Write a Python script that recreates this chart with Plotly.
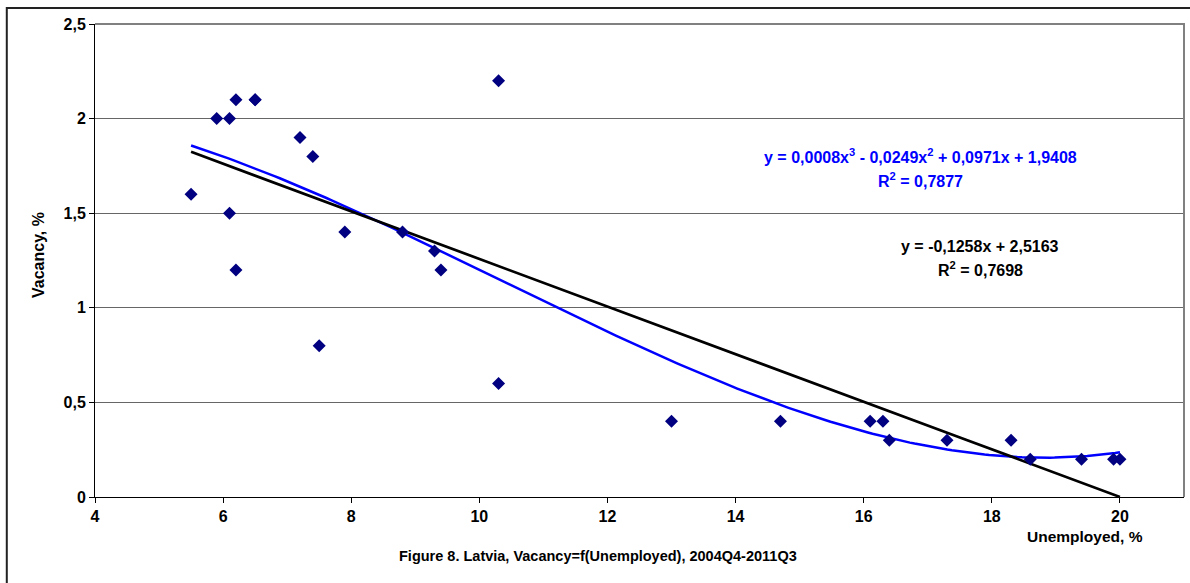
import numpy as np
import plotly.graph_objects as go

# Data (28 quarters; one marker is hidden under another)
unemployed = [5.5, 5.9, 6.1, 6.1, 6.2, 6.2, 6.5, 6.5, 7.2, 7.4, 7.5, 7.9, 8.8, 9.3, 9.4,
              10.3, 10.3, 13.0, 14.7, 16.1, 16.3, 16.4, 17.3, 18.3, 18.6, 19.4, 19.9, 20.0]
vacancy = [1.6, 2.0, 2.0, 1.5, 2.1, 1.2, 2.1, 2.1, 1.9, 1.8, 0.8, 1.4, 1.4, 1.3, 1.2,
           2.2, 0.6, 0.4, 0.4, 0.4, 0.4, 0.3, 0.3, 0.3, 0.2, 0.2, 0.2, 0.2]

# linear trendline coefficients as printed on the chart
lin_coef = [-0.1258, 2.5163]

lin_label = ["y = -0,1258x + 2,5163", "R<sup>2</sup> = 0,7698"]
poly_label = ["y = 0,0008x<sup>3</sup> - 0,0249x<sup>2</sup> + 0,0971x + 1,9408",
              "R<sup>2</sup> = 0,7877"]
x_title = "Unemployed, %"
y_title = "Vacancy, %"
caption = "Figure 8. Latvia, Vacancy=f(Unemployed), 2004Q4-2011Q3"

x = np.array(unemployed)
y = np.array(vacancy)
xs = np.linspace(x.min(), x.max(), 200)
cub = np.polyfit(x, y, 3)

FONT = "Liberation Sans, Arial, sans-serif"

fig = go.Figure()
fig.add_trace(go.Scatter(x=xs, y=np.polyval(cub, xs), mode="lines",
                         line=dict(color="#0000ff", width=2.5), hoverinfo="skip"))
fig.add_trace(go.Scatter(x=xs, y=np.polyval(lin_coef, xs), mode="lines",
                         line=dict(color="#000000", width=2.7), hoverinfo="skip"))
fig.add_trace(go.Scatter(x=unemployed, y=vacancy, mode="markers",
                         marker=dict(symbol="diamond", size=10, color="#000080",
                                     line=dict(width=0))))

fig.update_layout(
    width=1190, height=583,
    margin=dict(l=95, r=6, t=24, b=86),
    paper_bgcolor="white", plot_bgcolor="white",
    showlegend=False,
    separators=", ",
    font=dict(family=FONT, size=15, color="black"),
)
fig.update_xaxes(range=[4, 21], tickvals=list(range(4, 21, 2)),
                 showgrid=False, zeroline=False,
                 showline=True, linecolor="black", linewidth=1,
                 ticks="outside", ticklen=5, tickcolor="black",
                 tickfont=dict(family=FONT, size=16, color="black", weight="bold"))
fig.update_yaxes(range=[0, 2.5], dtick=0.5,
                 showgrid=True, gridcolor="#666666", gridwidth=1, zeroline=False,
                 showline=True, linecolor="black", linewidth=1,
                 ticks="outside", ticklen=5, tickcolor="black",
                 tickfont=dict(family=FONT, size=16, color="black", weight="bold"))

# plot-area border (top/right) and outer chart frame
fig.add_shape(type="path", xref="paper", yref="paper", path="M0,1 L1,1 L1,0",
              line=dict(color="#808080", width=2), layer="above")
fig.add_shape(type="path", xref="paper", yref="paper",
              path="M-0.081,-0.3 L-0.081,1.034 L1.2,1.034",
              line=dict(color="#222222", width=2), layer="above")

def ann(text, xp, yp, color="black", size=15, angle=0, xanchor="center"):
    fig.add_annotation(text=text, x=(xp - 95) / 1089, y=(497 - yp) / 473,
                       xref="paper", yref="paper", showarrow=False,
                       xanchor=xanchor, yanchor="middle", textangle=angle,
                       font=dict(family=FONT, size=size, color=color, weight="bold"))

ann(poly_label[0], 920, 156, color="#0000ff", size=16)
ann(poly_label[1], 920, 180, color="#0000ff", size=16)
ann(lin_label[0], 980, 246, size=16)
ann(lin_label[1], 980, 269, size=16)
ann(y_title, 38, 255, size=16, angle=-90)
ann(x_title, 1085, 536, size=15.5)
ann(caption, 598, 556, size=14.5)

fig.write_html("out.html")
